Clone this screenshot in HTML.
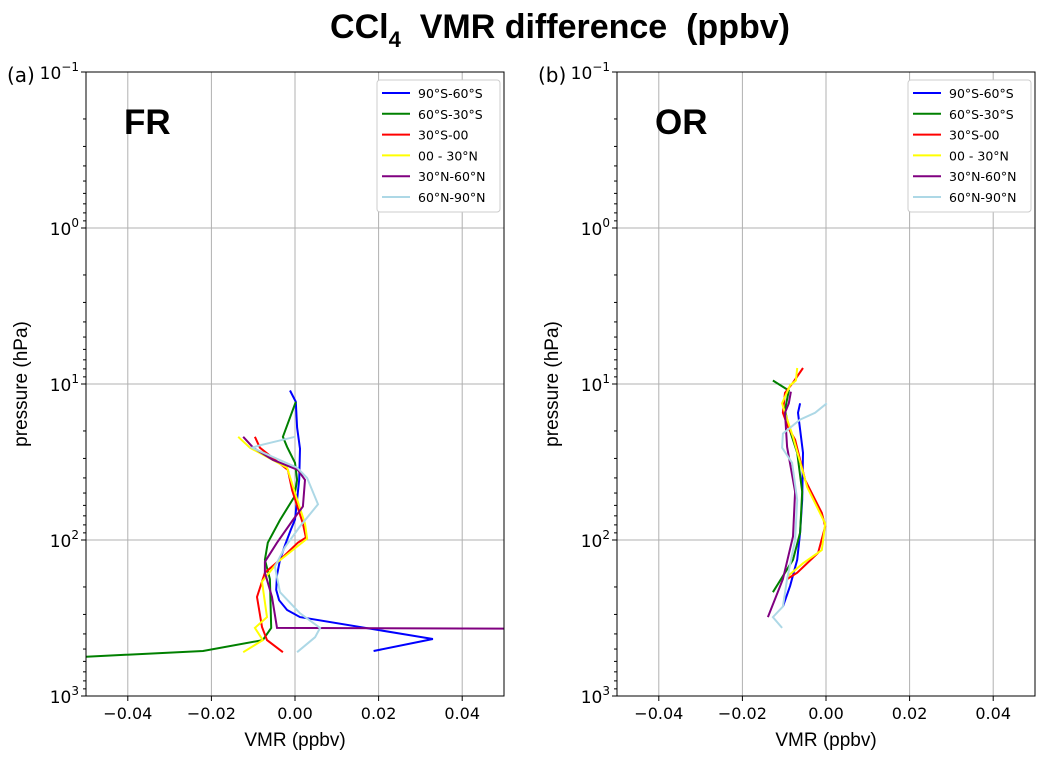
<!DOCTYPE html>
<html><head><meta charset="utf-8"><style>
body{margin:0;background:#fff;width:1046px;height:758px;overflow:hidden}
svg text{font-family:"DejaVu Sans","Liberation Sans",sans-serif}
</style></head><body>
<svg id="chart" width="1046" height="758" xmlns="http://www.w3.org/2000/svg"></svg>
<script>
const seriesNames=["90°S-60°S","60°S-30°S","30°S-00","00 - 30°N","30°N-60°N","60°N-90°N"];
const seriesColors=["#0000ff","#008000","#ff0000","#ffff00","#800080","#add8e6"];
const xTicks=[-0.04,-0.02,0,0.02,0.04];
const xTickLabels=["−0.04","−0.02","0.00","0.02","0.04"];
const yTickExp=[-1,0,1,2,3];
// FR panel: pressure (hPa) and VMR difference (ppbv)
const frP=[
[11,13,19,26,41,55,74,86,108,134,168,209,243,281,312,431,515],
[13,21.8,25.3,32,41.2,53,74.4,104,134,178,366,438,515,560],
[21.8,25.6,35.6,47.9,78.5,96.5,104,134,162,232,361,438,524],
[21.8,25.6,34.4,50,78.5,98,138,185,312,366,438,524],
[21.8,25.6,30.6,35.6,41.2,61,74.4,104,138,162,232,366,370],
[21.8,24.7,25.6,34.4,40,59,81.8,111,148,216,295,366,420,524]];
const frV=[
[-0.0012,0.0002,0.0005,0.0012,0.001,0.0005,0,-0.001,-0.0024,-0.0036,-0.0043,-0.0045,-0.0038,-0.0019,0.0012,0.033,0.0188],
[0.0002,-0.0029,-0.0019,0,0.0005,-0.0002,-0.0036,-0.0065,-0.0072,-0.006,-0.0057,-0.0077,-0.022,-0.05],
[-0.0096,-0.0084,-0.0017,-0.0007,0.0019,0.0026,0.0007,-0.0036,-0.0072,-0.0091,-0.0079,-0.0067,-0.0029],
[-0.0136,-0.0108,-0.0019,0,0.0024,0.0029,-0.0041,-0.0079,-0.0067,-0.0096,-0.0077,-0.0124],
[-0.0124,-0.01,-0.0053,0.0007,0.0024,0.0019,-0.0005,-0.0043,-0.0072,-0.0072,-0.0055,-0.0043,0.05],
[0,-0.0084,-0.0103,0.0005,0.0029,0.0055,0.0012,-0.0024,-0.0048,-0.0036,0.0012,0.006,0.0048,0.0005]];
// OR panel
const orP=[
[13.3,15.3,27.6,55.4,89.7,134,197,267],
[9.5,11,14.7,18.9,27.6,49,89.7,134,216],
[7.9,9.8,11.4,15.3,18.9,22.8,41.2,67,81.8,121,162,178],
[7.9,9.5,10.2,13.3,15.3,21.8,45.9,78.5,116,141,170],
[11.2,13.3,15.3,25.3,49,95,178,312],
[13.3,15.3,16.9,20.8,25.6,32,55.4,100,178,267,312,366]];
const orV=[
[-0.0062,-0.0067,-0.0055,-0.0057,-0.0062,-0.0069,-0.0086,-0.0103],
[-0.0127,-0.0089,-0.0098,-0.0089,-0.0069,-0.0057,-0.0062,-0.0079,-0.0127],
[-0.0055,-0.0079,-0.0098,-0.0103,-0.0091,-0.0074,-0.005,-0.001,-0.0002,-0.0019,-0.0069,-0.0093],
[-0.0069,-0.0072,-0.0086,-0.0105,-0.0098,-0.0079,-0.0045,-0.0002,-0.001,-0.0055,-0.0091],
[-0.0084,-0.0089,-0.0098,-0.0093,-0.0074,-0.0079,-0.0103,-0.0139],
[0.0002,-0.0026,-0.0062,-0.0103,-0.0105,-0.0081,-0.0069,-0.0074,-0.0093,-0.0103,-0.0127,-0.0105]];

const NS="http://www.w3.org/2000/svg";
const svg=document.getElementById('chart');
function mk(tag,attrs,parent,txt){const e=document.createElementNS(NS,tag);for(const k in attrs)e.setAttribute(k,attrs[k]);if(txt!==undefined)e.textContent=txt;(parent||svg).appendChild(e);return e;}

const title=mk('text',{x:560,y:38,'text-anchor':'middle','font-size':34,'font-weight':'bold',style:'font-family:"Liberation Sans",sans-serif'});


title.innerHTML='CCl<tspan font-size="22" dy="9">4</tspan><tspan dy="-9" xml:space="preserve">  VMR difference  (ppbv)</tspan>';

const T=72,B=696;
function drawPanel(L,R,tag,label,P,V){
  const g=mk('g',{});
  
  
  const xs=v=>L+(v+0.05)/0.1*(R-L);
  const ys=p=>T+(Math.log10(p)+1)/4*(B-T);
  const clip=mk('clipPath',{id:'clip'+label},g);
  mk('rect',{x:L,y:T,width:R-L,height:B-T},clip);
  xTicks.forEach((t,i)=>{
    const x=xs(t);
    const gl=mk('line',{x1:x,x2:x,y1:T,y2:B,stroke:'#b0b0b0','stroke-width':1},g);
    
    
    mk('line',{x1:x,x2:x,y1:B,y2:B+5,stroke:'#000'},g);
    const tl=mk('text',{x:x,y:B+23,'text-anchor':'middle','font-size':16},g,xTickLabels[i]);
    
    
  });
  yTickExp.forEach(e=>{
    const y=ys(Math.pow(10,e));
    const gl=mk('line',{x1:L,x2:R,y1:y,y2:y,stroke:'#b0b0b0','stroke-width':1},g);
    
    
    mk('line',{x1:L-5,x2:L,y1:y,y2:y,stroke:'#000'},g);
    const tl=mk('text',{x:L-7,y:y+7,'text-anchor':'end','font-size':17},g);
    tl.innerHTML='10<tspan font-size="12" dy="-8">'+(e<0?'−'+(-e):e)+'</tspan>';
    
    
    for(let k=2;k<10&&e<3;k++){const ym=ys(k*Math.pow(10,e));mk('line',{x1:L-3,x2:L,y1:ym,y2:ym,stroke:'#000'},g);}
  });
  P.forEach((ps,i)=>{
    const d=ps.map((p,j)=>(j?'L':'M')+xs(V[i][j]).toFixed(1)+','+ys(p).toFixed(1)).join(' ');
    const pl=mk('path',{d:d,fill:'none',stroke:seriesColors[i],'stroke-width':2,'clip-path':'url(#clip'+label+')'},g);
    
    
  });
  const fr=mk('rect',{x:L,y:T,width:R-L,height:B-T,fill:'none',stroke:'#000','stroke-width':1},g);
  
  
  const pt=mk('text',{x:L-79,y:T+10,'font-size':20},g,tag);
  
  
  const bl=mk('text',{x:L+38,y:T+62,'font-size':35,'font-weight':'bold',style:'font-family:"Liberation Sans",sans-serif'},g,label);
  
  
  const xl=mk('text',{x:(L+R)/2,y:B+50,'text-anchor':'middle','font-size':19,style:'font-family:"Liberation Sans",sans-serif'},g,'VMR (ppbv)');
  
  
  const yl=mk('text',{x:0,y:0,'text-anchor':'middle','font-size':19,style:'font-family:"Liberation Sans",sans-serif',transform:'translate('+(L-59)+','+((T+B)/2)+') rotate(-90)'},g,'pressure (hPa)');
  
  
  const lg=mk('g',{},g);
  
  
  const lx=R-127;
  mk('rect',{x:lx,y:T+8,width:123,height:132,fill:'#fff',stroke:'#ccc',rx:3},lg);
  seriesNames.forEach((n,i)=>{
    const y=T+21+i*20.8;
    const e=mk('g',{},lg);
    
    
    mk('line',{x1:lx+5,x2:lx+33,y1:y,y2:y,stroke:seriesColors[i],'stroke-width':2},e);
    mk('text',{x:lx+41,y:y+5,'font-size':12.5},e,n);
  });
}
drawPanel(86,504,'(a)','FR',frP,frV);
drawPanel(617,1035,'(b)','OR',orP,orV);
</script>
</body></html>
